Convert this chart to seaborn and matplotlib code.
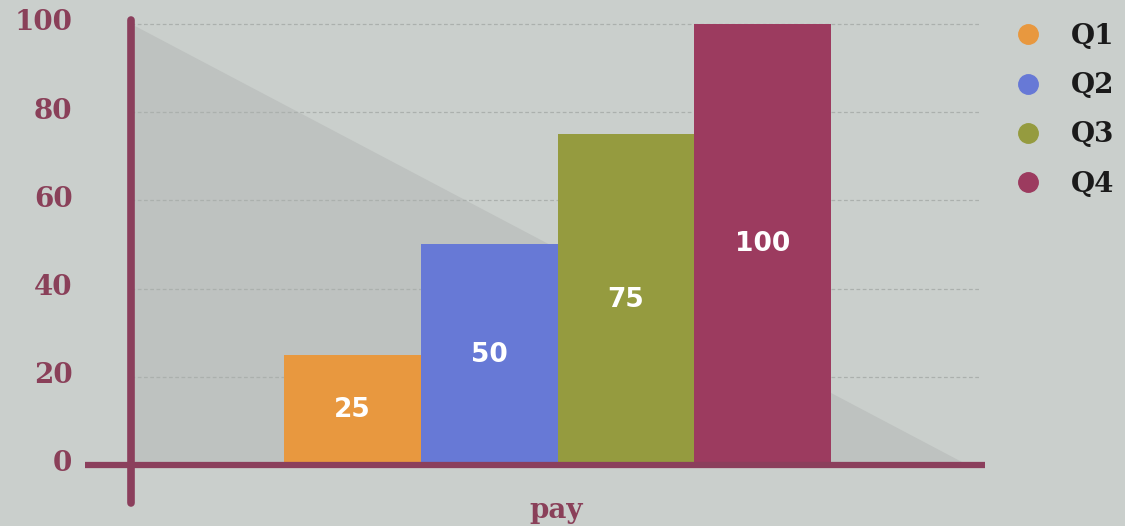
import numpy as np
import pandas as pd
import matplotlib
matplotlib.use("Agg")
import matplotlib.pyplot as plt
import matplotlib.transforms as mtrans
from matplotlib.lines import Line2D
import seaborn as sns

# ---- data ----
quarters = ["Q1", "Q2", "Q3", "Q4"]
values = [25, 50, 75, 100]
bar_colors = ["#e8983f", "#6779d6", "#959b3f", "#9c3b5f"]
y_ticks = [0, 20, 40, 60, 80, 100]
x_label = "pay"

df = pd.DataFrame({"quarter": quarters, "value": values})

sns.set_theme(style="white")
plt.rcParams["font.family"] = ["DejaVu Serif", "Liberation Serif"]

BG = "#cacfcc"
TRI = "#bec2c0"
AXC = "#8b3f5c"
TICKC = "#8a4059"

fig = plt.figure(figsize=(11.25, 5.26), dpi=100, facecolor=BG)
ax = fig.add_axes([85 / 1125, (526 - 509.1) / 526, 900 / 1125, 494 / 526])
ax.set_facecolor(BG)

xmin, xmax = -1.957, 4.627
ymin, ymax = -10, 102
ax.set_xlim(xmin, xmax)
ax.set_ylim(ymin, ymax)

yax_x = -1.62
# shaded triangle
ax.fill([yax_x, 4.5, yax_x], [100, 0, 0], color=TRI, zorder=0, lw=0)

# dashed grid lines
ax.hlines([t for t in y_ticks if t > 0], yax_x, 4.6, colors="#abb0ad",
          linestyles=(0, (3, 2)), lw=0.9, zorder=1)

sns.barplot(data=df, x="quarter", y="value", hue="quarter", palette=bar_colors,
            width=1.0, legend=False, ax=ax, saturation=1, zorder=3,
            linewidth=0, edgecolor="none")
ax.set_xlim(xmin, xmax)
ax.set_ylim(ymin, ymax)

for cont in ax.containers:
    ax.bar_label(cont, label_type="center", color="white", fontsize=19,
                 fontweight="bold", family="DejaVu Sans", zorder=5)

# axis lines
ax.axhline(0, color=AXC, lw=4.5, zorder=4, solid_capstyle="round")
ax.plot([yax_x, yax_x], [-8.6, 101], color=AXC, lw=5.5, zorder=4,
        solid_capstyle="round")

for s in ax.spines.values():
    s.set_visible(False)
ax.set_xticks([])
ax.set_yticks(y_ticks)
ax.set_yticklabels([str(t) for t in y_ticks], fontsize=20, fontweight="bold",
                   color=TICKC)
ax.tick_params(axis="y", length=0, pad=9)
shift = mtrans.ScaledTranslation(0, 4 / 100, fig.dpi_scale_trans)
for lbl in ax.get_yticklabels():
    lbl.set_transform(lbl.get_transform() + shift)
ax.set_ylabel("")
ax.set_xlabel(x_label, fontsize=20, fontweight="bold", color=TICKC)
ax.xaxis.set_label_coords(0.524, -0.002)
ax.xaxis.label.set_va("center")

handles = [Line2D([0], [0], marker="o", linestyle="", markersize=14,
                  markerfacecolor=c, markeredgecolor=c, label=q)
           for q, c in zip(quarters, bar_colors)]
leg = fig.legend(handles=handles, loc="upper left",
                 bbox_to_anchor=(1014 / 1125, 1 - 23 / 526),
                 frameon=False, handlelength=1.0,
                 handletextpad=1.05, labelspacing=0.8, borderpad=0,
                 borderaxespad=0, prop={"weight": "bold", "size": 20,
                                        "family": "DejaVu Serif"})
for t in leg.get_texts():
    t.set_color("#1a1a1a")

fig.savefig("out.png", dpi=100, facecolor=BG)
